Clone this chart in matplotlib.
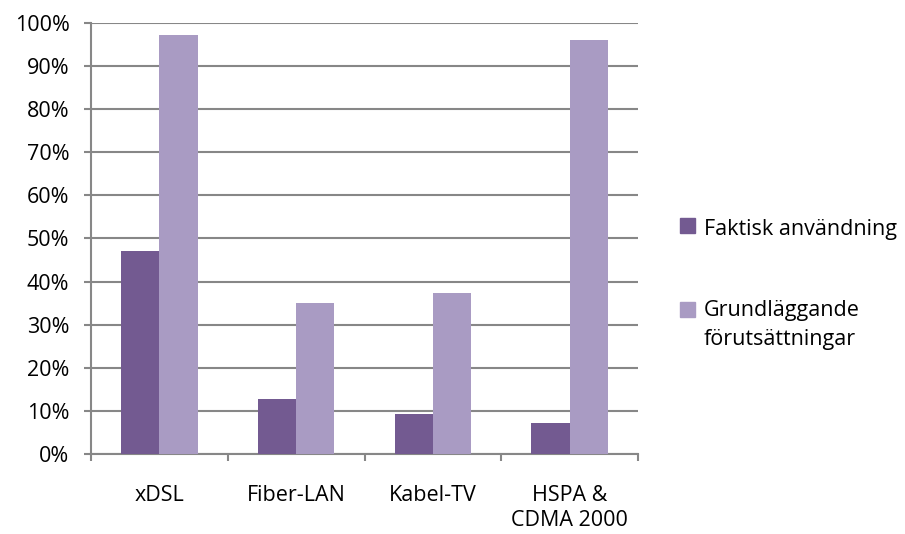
import numpy as np
import matplotlib.pyplot as plt
from matplotlib.patches import Rectangle

categories = ['xDSL', 'Fiber-LAN', 'Kabel-TV', 'HSPA &\nCDMA 2000']
faktisk = [47.2, 12.7, 9.3, 7.3]
grund = [97.1, 35.0, 37.3, 96.0]
series_names = ['Faktisk användning', 'Grundläggande\nförutsättningar']
colors = ['#735a91', '#a99bc3']

plt.rcParams['font.family'] = ['Open Sans', 'DejaVu Sans']
grid_col = '#878787'
fs = 15.5

W, H = 905, 534
fig = plt.figure(figsize=(W / 100, H / 100), dpi=100)
ax = fig.add_axes([91 / W, 1 - 454 / H, (638 - 91) / W, (454 - 23) / H])

x = np.arange(len(categories))
w = 0.28
ax.bar(x - w / 2, faktisk, w, color=colors[0], zorder=3)
ax.bar(x + w / 2, grund, w, color=colors[1], zorder=3)

ax.set_xlim(-0.5, len(categories) - 0.5)
ax.set_ylim(0, 100)
ax.set_yticks(np.arange(0, 101, 10))
ax.set_yticklabels([f'{v}%' for v in range(0, 101, 10)])
ax.yaxis.grid(True, color=grid_col, linewidth=1.5, zorder=0)

# category labels sit between the boundary ticks
ax.set_xticks(np.arange(-0.5, len(categories), 1.0))
ax.set_xticklabels([])
ax.set_xticks(x, minor=True)
ax.set_xticklabels(categories, minor=True, linespacing=1.3)
ax.tick_params(axis='x', which='minor', length=0, pad=22, labelsize=fs)
ax.tick_params(axis='x', which='major', length=5, width=1.5, color=grid_col)
ax.tick_params(axis='y', length=5, width=1.5, color=grid_col, labelsize=fs, pad=10.5)

for s in ['top', 'right']:
    ax.spines[s].set_visible(False)
for s in ['left', 'bottom']:
    ax.spines[s].set_color(grid_col)
    ax.spines[s].set_linewidth(1.5)

# legend entries: square beside the first line, lines placed by baseline
square_tops = [218, 302]
baselines = [235, 316]
line_step = 29
for name, c, top, base in zip(series_names, colors, square_tops, baselines):
    fig.patches.append(Rectangle((680 / W, 1 - (top + 15) / H), 15 / W, 15 / H,
                                 transform=fig.transFigure, color=c))
    for i, line in enumerate(name.split('\n')):
        fig.text(704 / W, 1 - (base + i * line_step) / H, line, fontsize=fs,
                 va='baseline', transform=fig.transFigure)

fig.savefig('out.png', dpi=100)
